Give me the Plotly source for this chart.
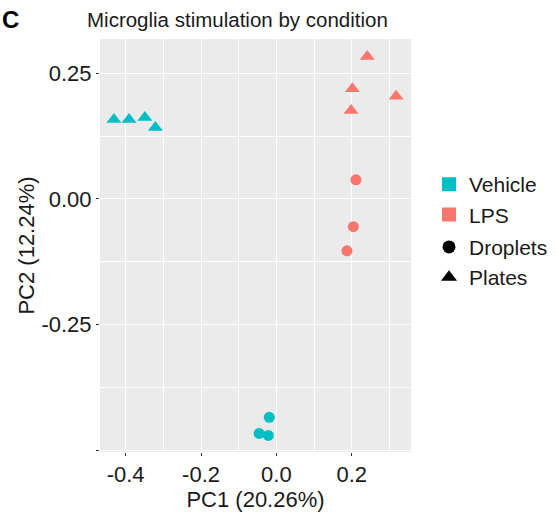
import plotly.graph_objects as go

# ---- data ----
veh_plates_x = [-0.431, -0.391, -0.349, -0.321]
veh_plates_y = [0.158, 0.158, 0.162, 0.142]
veh_drop_x = [-0.019, -0.046, -0.0215]
veh_drop_y = [-0.434, -0.466, -0.470]
lps_plates_x = [0.241, 0.2015, 0.3175, 0.198]
lps_plates_y = [0.283, 0.219, 0.204, 0.176]
lps_drop_x = [0.211, 0.204, 0.187]
lps_drop_y = [0.038, -0.055, -0.103]

x_tickvals = [-0.4, -0.2, 0.0, 0.2]
x_ticktext = ["-0.4", "-0.2", "0.0", "0.2"]
y_tickvals = [-0.5, -0.25, 0.0, 0.25]
y_ticktext = ["", "-0.25", "0.00", "0.25"]

TEAL = "#00BFC4"
SALMON = "#F8766D"
FONT = "Liberation Sans, Arial, sans-serif"
TXT = "#1a1a1a"

fig = go.Figure()

def pts(x, y, color, symbol, size):
    fig.add_trace(go.Scatter(
        x=x, y=y, mode="markers", showlegend=False, hoverinfo="skip",
        marker=dict(color=color, symbol=symbol, size=size, line=dict(width=0)),
    ))

pts(veh_plates_x, veh_plates_y, TEAL, "triangle-up", 13)
pts(lps_plates_x, lps_plates_y, SALMON, "triangle-up", 13)
pts(veh_drop_x, veh_drop_y, TEAL, "circle", 11)
pts(lps_drop_x, lps_drop_y, SALMON, "circle", 11)

# legend entries
def leg(name, color, symbol, group, size):
    fig.add_trace(go.Scatter(
        x=[None], y=[None], mode="markers", name=name, legendgroup=group,
        marker=dict(color=color, symbol=symbol, size=size, line=dict(width=0)),
    ))

leg("Vehicle", TEAL, "square", "cond", 14)
leg("LPS", SALMON, "square", "cond", 14)
leg("Droplets", "black", "circle", "plat", 13)
leg("Plates", "black", "triangle-up", "plat", 14)

L, R, T, B = 100, 146, 39, 62
pw = 557 - L - R

axis_common = dict(
    showgrid=True, gridcolor="white", gridwidth=1.1,
    zeroline=False, showline=False,
    ticks="outside", ticklen=3, tickwidth=1, tickcolor="#333333",
    tickfont=dict(family=FONT, size=22, color=TXT),
)

fig.update_xaxes(
    range=[-0.468, 0.357], tickvals=x_tickvals, ticktext=x_ticktext,
    title=dict(text="PC1 (20.26%)", font=dict(family=FONT, size=22, color=TXT), standoff=4),
    minor=dict(showgrid=True, gridcolor="white", gridwidth=0.5, ticks="",
               tickvals=[-0.3, -0.1, 0.1, 0.3]),
    **axis_common,
)
fig.update_yaxes(
    range=[-0.503, 0.318], tickvals=y_tickvals, ticktext=y_ticktext,
    title=dict(text="PC2 (12.24%)", font=dict(family=FONT, size=22, color=TXT), standoff=0),
    minor=dict(showgrid=True, gridcolor="white", gridwidth=0.5, ticks="",
               tickvals=[-0.375, -0.125, 0.125]),
    **axis_common,
)

fig.update_layout(
    width=557, height=514,
    margin=dict(l=L, r=R, t=T, b=B, autoexpand=False),
    paper_bgcolor="white", plot_bgcolor="#EBEBEB",
    font=dict(family=FONT, size=21, color=TXT),
    title=dict(
        text="Microglia stimulation by condition",
        font=dict(family=FONT, size=20.5, color=TXT),
        xref="container", x=87 / 557, xanchor="left",
        yref="container", y=1 - 20 / 514, yanchor="middle",
    ),
    legend=dict(
        x=(429 - L) / pw, xanchor="left", y=0.697, yanchor="top",
        traceorder="grouped", tracegroupgap=2, itemwidth=30,
        font=dict(family=FONT, size=21, color=TXT),
        bgcolor="rgba(0,0,0,0)", itemsizing="trace",
    ),
    annotations=[dict(
        text="<b>C</b>", xref="paper", yref="paper",
        x=(0 - L) / pw, xanchor="left", y=1 + (T - 20) / (514 - T - B), yanchor="middle",
        showarrow=False, font=dict(family=FONT, size=24, color="black"),
    )],
)

fig.write_html("out.html")
